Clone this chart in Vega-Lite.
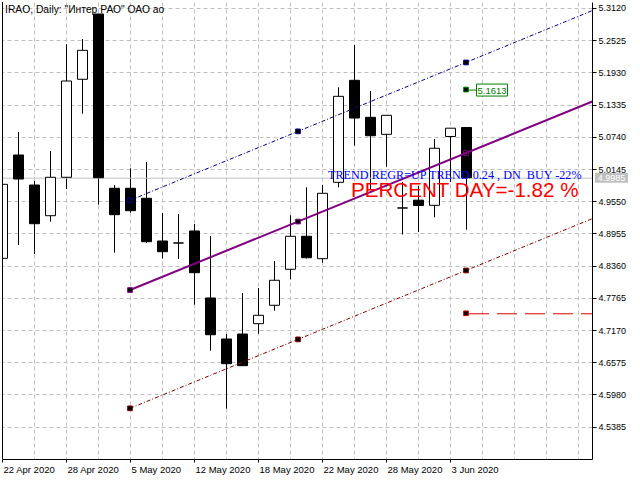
{
  "$schema": "https://vega.github.io/schema/vega-lite/v6.json",
  "width": 590,
  "height": 457,
  "autosize": {"type": "none"},
  "padding": {"left": 2, "top": 2, "right": 48, "bottom": 21},
  "background": "white",
  "config": {"view": {"stroke": null}, "axis": {"labelOverlap": false, "labelBound": false}},
  "resolve": {"axis": {"x": "independent", "y": "independent"}},
  "datasets": {
    "candles": [
      {"i": 0, "date": "2020-04-22", "open": 4.8495, "high": 4.9862, "low": 4.8495, "close": 4.9862},
      {"i": 1, "date": "2020-04-23", "open": 5.0404, "high": 5.0829, "low": 4.8741, "close": 4.9960},
      {"i": 2, "date": "2020-04-24", "open": 4.9849, "high": 4.9923, "low": 4.8575, "close": 4.9134},
      {"i": 3, "date": "2020-04-27", "open": 4.9282, "high": 5.0478, "low": 4.9171, "close": 4.9992},
      {"i": 4, "date": "2020-04-28", "open": 4.9992, "high": 5.2449, "low": 4.9776, "close": 5.1771},
      {"i": 5, "date": "2020-04-29", "open": 5.1803, "high": 5.2547, "low": 5.1167, "close": 5.2338},
      {"i": 6, "date": "2020-04-30", "open": 5.3009, "high": 5.3009, "low": 4.9486, "close": 4.9984},
      {"i": 7, "date": "2020-05-04", "open": 4.9789, "high": 4.9849, "low": 4.8599, "close": 4.9301},
      {"i": 8, "date": "2020-05-05", "open": 4.9789, "high": 5.0158, "low": 4.9338, "close": 4.9375},
      {"i": 9, "date": "2020-05-06", "open": 4.9604, "high": 5.0274, "low": 4.8783, "close": 4.8802},
      {"i": 10, "date": "2020-05-07", "open": 4.8815, "high": 4.9332, "low": 4.8491, "close": 4.8617},
      {"i": 11, "date": "2020-05-08", "open": 4.8778, "high": 4.9314, "low": 4.8482, "close": 4.8778},
      {"i": 12, "date": "2020-05-12", "open": 4.9000, "high": 4.9129, "low": 4.7638, "close": 4.8229},
      {"i": 13, "date": "2020-05-13", "open": 4.7762, "high": 4.8907, "low": 4.6788, "close": 4.7083},
      {"i": 14, "date": "2020-05-14", "open": 4.7004, "high": 4.7096, "low": 4.5716, "close": 4.6548},
      {"i": 15, "date": "2020-05-15", "open": 4.7096, "high": 4.7854, "low": 4.6511, "close": 4.6511},
      {"i": 16, "date": "2020-05-18", "open": 4.7287, "high": 4.7946, "low": 4.7102, "close": 4.7442},
      {"i": 17, "date": "2020-05-19", "open": 4.7627, "high": 4.8445, "low": 4.7527, "close": 4.8089},
      {"i": 18, "date": "2020-05-20", "open": 4.8292, "high": 4.9290, "low": 4.8107, "close": 4.8902},
      {"i": 19, "date": "2020-05-21", "open": 4.8902, "high": 4.9807, "low": 4.8490, "close": 4.8506},
      {"i": 20, "date": "2020-05-22", "open": 4.8488, "high": 4.9849, "low": 4.8414, "close": 4.9696},
      {"i": 21, "date": "2020-05-25", "open": 4.9899, "high": 5.1655, "low": 4.9807, "close": 5.1488},
      {"i": 22, "date": "2020-05-26", "open": 5.1784, "high": 5.2436, "low": 5.0576, "close": 5.1087},
      {"i": 23, "date": "2020-05-27", "open": 5.1100, "high": 5.1586, "low": 4.9757, "close": 5.0760},
      {"i": 24, "date": "2020-05-28", "open": 5.0786, "high": 5.1137, "low": 5.0188, "close": 5.1137},
      {"i": 25, "date": "2020-05-29", "open": 4.9425, "high": 4.9905, "low": 4.8935, "close": 4.9425},
      {"i": 26, "date": "2020-06-01", "open": 4.9569, "high": 4.9831, "low": 4.8981, "close": 4.9471},
      {"i": 27, "date": "2020-06-02", "open": 4.9474, "high": 5.0699, "low": 4.9253, "close": 5.0528},
      {"i": 28, "date": "2020-06-03", "open": 5.0746, "high": 5.0899, "low": 4.9905, "close": 5.0899},
      {"i": 29, "date": "2020-06-04", "open": 5.0912, "high": 5.0912, "low": 4.9024, "close": 4.9985}
    ],
    "channel": [
      {"line": "upper", "i": 8, "p": 4.9567},
      {"line": "upper", "i": 37, "p": 5.3085},
      {"line": "lower", "i": 8, "p": 4.5723},
      {"line": "lower", "i": 37, "p": 4.9241}
    ],
    "mid": [
      {"i": 8, "p": 4.7909},
      {"i": 37, "p": 5.1404}
    ],
    "anchors": [
      {"line": "upper", "i": 8, "p": 4.9567},
      {"line": "upper", "i": 18.5, "p": 5.0841},
      {"line": "upper", "i": 29, "p": 5.2114},
      {"line": "mid", "i": 8, "p": 4.7909},
      {"line": "mid", "i": 18.5, "p": 4.9174},
      {"line": "mid", "i": 29, "p": 5.0440},
      {"line": "lower", "i": 8, "p": 4.5723},
      {"line": "lower", "i": 18.5, "p": 4.6997},
      {"line": "lower", "i": 29, "p": 4.8270}
    ]
  },
  "layer": [
    {
      "data": {"name": "candles"},
      "mark": {"type": "rule", "color": "black", "strokeWidth": 1, "clip": true, "xOffset": 0.5},
      "encoding": {
        "x": {
          "field": "i", "type": "quantitative",
          "scale": {"domain": [0, 36.875], "nice": false, "zero": false, "padding": 0},
          "axis": {
            "values": [0, 2, 4, 6, 8, 10, 12, 14, 16, 18, 20, 22, 24, 26, 28, 30, 32, 34, 36],
            "grid": true, "gridColor": "#C0C0C0", "gridDash": [4, 3], "gridWidth": 1,
            "domainColor": "black", "tickColor": "black", "tickSize": 3,
            "tickOpacity": {"condition": {"test": "datum.value % 4 == 0 && datum.value <= 28", "value": 1}, "value": 0},
            "labelExpr": "datum.value == 0 ? '22 Apr 2020' : datum.value == 4 ? '28 Apr 2020' : datum.value == 8 ? '5 May 2020' : datum.value == 12 ? '12 May 2020' : datum.value == 16 ? '18 May 2020' : datum.value == 20 ? '22 May 2020' : datum.value == 24 ? '28 May 2020' : datum.value == 28 ? '3 Jun 2020' : ''",
            "labelAlign": "left", "labelBaseline": "top", "labelFont": "Liberation Sans", "labelFontSize": 9.5,
            "labelColor": "black", "labelPadding": 2, "labelOffset": 1, "labelFlush": false, "labelOverlap": false,
            "title": null
          }
        },
        "y": {
          "field": "low", "type": "quantitative",
          "scale": {"domain": [4.478667, 5.323086], "nice": false, "zero": false, "padding": 0},
          "axis": {
            "orient": "right",
            "values": [4.5385, 4.598, 4.6575, 4.717, 4.7765, 4.836, 4.8955, 4.955, 5.0145, 5.074, 5.1335, 5.193, 5.2525, 5.312],
            "labelExpr": "format(datum.value, '.4f')",
            "grid": true, "gridColor": "#C0C0C0", "gridDash": [4, 3], "gridWidth": 1,
            "domainColor": "black", "tickColor": "black", "tickSize": 4,
            "labelFont": "Liberation Sans", "labelFontSize": 9, "labelColor": "black", "labelPadding": 2,
            "labelFlush": false, "labelOverlap": false, "title": null
          }
        },
        "y2": {"field": "high"}
      }
    },
    {
      "data": {"values": [{"p": 4.9985}]},
      "mark": {"type": "rule", "color": "#C0C0C0", "strokeWidth": 1, "yOffset": 0.5},
      "encoding": {
        "y": {"field": "p", "type": "quantitative", "axis": null, "scale": {"domain": [4.478667, 5.323086], "nice": false, "zero": false, "padding": 0}}
      }
    },
    {
      "data": {"name": "candles"},
      "mark": {"type": "bar", "width": 10, "stroke": "black", "strokeWidth": 1, "clip": true, "xOffset": 0.5},
      "encoding": {
        "x": {"field": "i", "type": "quantitative", "axis": null, "scale": {"domain": [0, 36.875], "nice": false, "zero": false, "padding": 0}},
        "y": {"field": "open", "type": "quantitative", "axis": null, "scale": {"domain": [4.478667, 5.323086], "nice": false, "zero": false, "padding": 0}},
        "y2": {"field": "close"},
        "fill": {"condition": {"test": "datum.close >= datum.open", "value": "white"}, "value": "black"}
      }
    },
    {
      "data": {"name": "channel"},
      "mark": {"type": "line", "strokeWidth": 1, "strokeDash": [4, 2, 1, 2], "clip": true},
      "encoding": {
        "x": {"field": "i", "type": "quantitative", "axis": null, "scale": {"domain": [0, 36.875], "nice": false, "zero": false, "padding": 0}},
        "y": {"field": "p", "type": "quantitative", "axis": null, "scale": {"domain": [4.478667, 5.323086], "nice": false, "zero": false, "padding": 0}},
        "color": {"field": "line", "type": "nominal", "scale": {"domain": ["upper", "lower"], "range": ["#000080", "#800000"]}, "legend": null}
      }
    },
    {
      "data": {"name": "mid"},
      "mark": {"type": "line", "strokeWidth": 2, "color": "#800080", "clip": true},
      "encoding": {
        "x": {"field": "i", "type": "quantitative", "axis": null, "scale": {"domain": [0, 36.875], "nice": false, "zero": false, "padding": 0}},
        "y": {"field": "p", "type": "quantitative", "axis": null, "scale": {"domain": [4.478667, 5.323086], "nice": false, "zero": false, "padding": 0}}
      }
    },
    {
      "data": {"name": "anchors"},
      "mark": {"type": "point", "shape": "square", "size": 22, "strokeWidth": 1, "filled": false, "opacity": 1},
      "encoding": {
        "x": {"field": "i", "type": "quantitative", "axis": null, "scale": {"domain": [0, 36.875], "nice": false, "zero": false, "padding": 0}},
        "y": {"field": "p", "type": "quantitative", "axis": null, "scale": {"domain": [4.478667, 5.323086], "nice": false, "zero": false, "padding": 0}},
        "stroke": {"field": "line", "type": "nominal", "scale": {"domain": ["upper", "mid", "lower"], "range": ["#000080", "#800080", "#800000"]}, "legend": null},
        "fill": {"condition": {"test": "(datum.line == 'upper' && datum.i == 8) || (datum.line == 'mid' && datum.i == 29)", "value": "transparent"}, "value": "black"}
      }
    },
    {
      "data": {"values": [{"i": 29, "p": 5.1613, "t": "5.1613"}]},
      "mark": {"type": "rule", "color": "#008000", "strokeWidth": 1, "xOffset": 3, "x2Offset": 10, "yOffset": 0.5},
      "encoding": {
        "x": {"field": "i", "type": "quantitative", "axis": null, "scale": {"domain": [0, 36.875], "nice": false, "zero": false, "padding": 0}},
        "x2": {"field": "i"},
        "y": {"field": "p", "type": "quantitative", "axis": null, "scale": {"domain": [4.478667, 5.323086], "nice": false, "zero": false, "padding": 0}}
      }
    },
    {
      "data": {"values": [{"i": 29, "p": 5.1613, "t": "5.1613"}]},
      "mark": {"type": "rect", "fill": "white", "stroke": "#008000", "strokeWidth": 1, "xOffset": 10.5, "x2Offset": 41.5, "yOffset": -5.5, "y2Offset": 6.5},
      "encoding": {
        "x": {"field": "i", "type": "quantitative", "axis": null, "scale": {"domain": [0, 36.875], "nice": false, "zero": false, "padding": 0}},
        "x2": {"field": "i"},
        "y": {"field": "p", "type": "quantitative", "axis": null, "scale": {"domain": [4.478667, 5.323086], "nice": false, "zero": false, "padding": 0}},
        "y2": {"field": "p"}
      }
    },
    {
      "data": {"values": [{"i": 29, "p": 5.1613}]},
      "mark": {"type": "point", "shape": "square", "size": 22, "strokeWidth": 1, "filled": false, "fill": "black", "stroke": "#008000", "opacity": 1},
      "encoding": {
        "x": {"field": "i", "type": "quantitative", "axis": null, "scale": {"domain": [0, 36.875], "nice": false, "zero": false, "padding": 0}},
        "y": {"field": "p", "type": "quantitative", "axis": null, "scale": {"domain": [4.478667, 5.323086], "nice": false, "zero": false, "padding": 0}}
      }
    },
    {
      "data": {"values": [{"i": 29, "p": 5.1613, "t": "5.1613"}]},
      "mark": {"type": "text", "color": "#008000", "font": "Liberation Sans", "fontSize": 9.5, "align": "center", "baseline": "middle", "dx": 26, "dy": 1},
      "encoding": {
        "x": {"field": "i", "type": "quantitative", "axis": null, "scale": {"domain": [0, 36.875], "nice": false, "zero": false, "padding": 0}},
        "y": {"field": "p", "type": "quantitative", "axis": null, "scale": {"domain": [4.478667, 5.323086], "nice": false, "zero": false, "padding": 0}},
        "text": {"field": "t"}
      }
    },
    {
      "data": {"values": [{"i": 29, "p": 4.7479}]},
      "mark": {"type": "rule", "color": "#DD0000", "strokeWidth": 1, "strokeDash": [20, 8], "xOffset": 3, "yOffset": 0.5, "clip": true},
      "encoding": {
        "x": {"field": "i", "type": "quantitative", "axis": null, "scale": {"domain": [0, 36.875], "nice": false, "zero": false, "padding": 0}},
        "x2": {"datum": 36.875},
        "y": {"field": "p", "type": "quantitative", "axis": null, "scale": {"domain": [4.478667, 5.323086], "nice": false, "zero": false, "padding": 0}}
      }
    },
    {
      "data": {"values": [{"i": 29, "p": 4.7479}]},
      "mark": {"type": "point", "shape": "square", "size": 22, "strokeWidth": 1, "filled": false, "fill": "black", "stroke": "#DD0000", "opacity": 1},
      "encoding": {
        "x": {"field": "i", "type": "quantitative", "axis": null, "scale": {"domain": [0, 36.875], "nice": false, "zero": false, "padding": 0}},
        "y": {"field": "p", "type": "quantitative", "axis": null, "scale": {"domain": [4.478667, 5.323086], "nice": false, "zero": false, "padding": 0}}
      }
    },
    {
      "data": {"values": [{"i": 0}]},
      "mark": {"type": "rule", "color": "black", "strokeWidth": 1, "xOffset": 0.5},
      "encoding": {
        "x": {"field": "i", "type": "quantitative", "axis": null, "scale": {"domain": [0, 36.875], "nice": false, "zero": false, "padding": 0}}
      }
    },
    {
      "data": {"values": [{"i": 0.19, "p": 5.3083, "t": "IRAO, Daily: \"Интер РАО\" ОАО ао"}]},
      "mark": {"type": "text", "color": "black", "font": "Liberation Sans", "fontSize": 10.3, "align": "left", "baseline": "middle"},
      "encoding": {
        "x": {"field": "i", "type": "quantitative", "axis": null, "scale": {"domain": [0, 36.875], "nice": false, "zero": false, "padding": 0}},
        "y": {"field": "p", "type": "quantitative", "axis": null, "scale": {"domain": [4.478667, 5.323086], "nice": false, "zero": false, "padding": 0}},
        "text": {"field": "t"}
      }
    },
    {
      "data": {"values": [{"i": 20.375, "p": 4.9965, "t": "TREND REGR=UP TREND 0.24 , DN\u00a0 BUY -22%"}]},
      "mark": {"type": "text", "color": "#0000FF", "font": "Liberation Serif", "fontSize": 12.2, "align": "left", "baseline": "alphabetic"},
      "encoding": {
        "x": {"field": "i", "type": "quantitative", "axis": null, "scale": {"domain": [0, 36.875], "nice": false, "zero": false, "padding": 0}},
        "y": {"field": "p", "type": "quantitative", "axis": null, "scale": {"domain": [4.478667, 5.323086], "nice": false, "zero": false, "padding": 0}},
        "text": {"field": "t"}
      }
    },
    {
      "data": {"values": [{"i": 21.81, "p": 4.9625, "t": "PERCENT DAY=-1.82 %"}]},
      "mark": {"type": "text", "color": "#FF0000", "font": "Liberation Sans", "fontSize": 20.6, "align": "left", "baseline": "alphabetic"},
      "encoding": {
        "x": {"field": "i", "type": "quantitative", "axis": null, "scale": {"domain": [0, 36.875], "nice": false, "zero": false, "padding": 0}},
        "y": {"field": "p", "type": "quantitative", "axis": null, "scale": {"domain": [4.478667, 5.323086], "nice": false, "zero": false, "padding": 0}},
        "text": {"field": "t"}
      }
    },
    {
      "data": {"values": [{"p": 4.9985, "t": "4.9985"}]},
      "mark": {"type": "rect", "fill": "#C0C0C0", "xOffset": 3, "x2Offset": 36, "yOffset": -5, "y2Offset": 5},
      "encoding": {
        "x": {"datum": 36.875, "type": "quantitative", "axis": null, "scale": {"domain": [0, 36.875], "nice": false, "zero": false, "padding": 0}},
        "x2": {"datum": 36.875},
        "y": {"field": "p", "type": "quantitative", "axis": null, "scale": {"domain": [4.478667, 5.323086], "nice": false, "zero": false, "padding": 0}},
        "y2": {"field": "p"}
      }
    },
    {
      "data": {"values": [{"p": 4.9985, "t": "4.9985"}]},
      "mark": {"type": "text", "color": "white", "font": "Liberation Sans", "fontSize": 9, "align": "center", "baseline": "middle", "dx": 19.5, "dy": 0.5},
      "encoding": {
        "x": {"datum": 36.875, "type": "quantitative", "axis": null, "scale": {"domain": [0, 36.875], "nice": false, "zero": false, "padding": 0}},
        "y": {"field": "p", "type": "quantitative", "axis": null, "scale": {"domain": [4.478667, 5.323086], "nice": false, "zero": false, "padding": 0}},
        "text": {"field": "t"}
      }
    }
  ]
}
